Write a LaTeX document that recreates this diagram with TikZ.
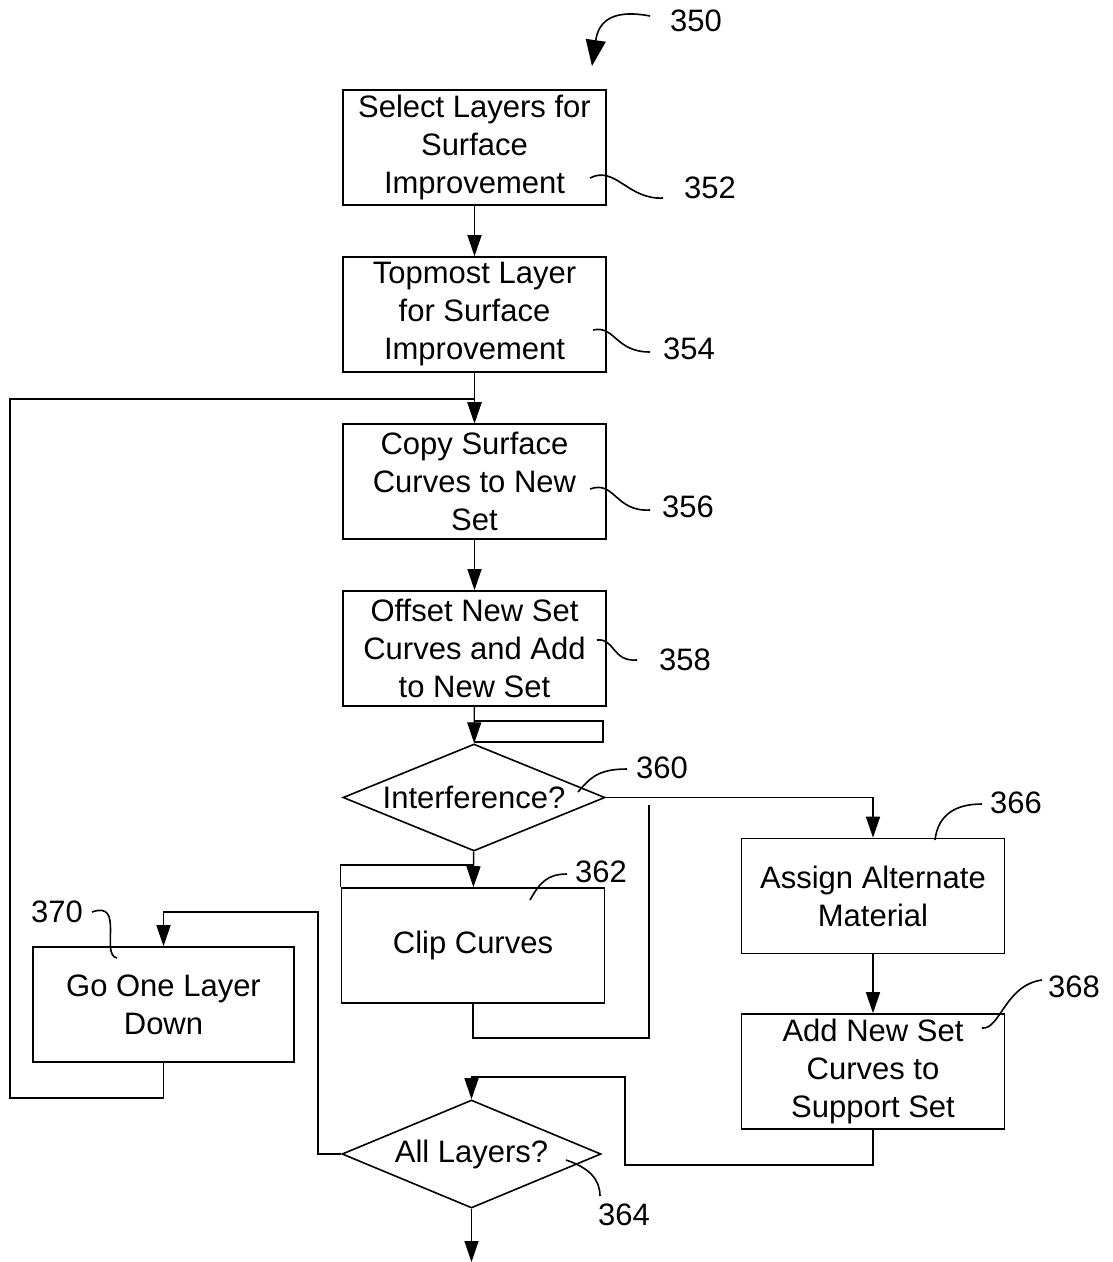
\documentclass[tikz,border=0pt]{standalone}
\usepackage{fontspec}
\setmainfont{Liberation Sans}
\usetikzlibrary{shapes.geometric,arrows.meta}

\tikzset{
  stepbox/.style={draw, line width=1.6pt, rectangle, minimum width=263pt, minimum height=115pt,
    inner sep=0pt, align=center, font=\fontsize{31}{38}\selectfont},
  decision/.style={draw, line width=1.6pt, diamond, aspect=2.45, inner sep=0pt,
    minimum width=262pt, minimum height=107pt, font=\fontsize{31}{38}\selectfont},
  flow/.style={line width=1.4pt, -{Triangle[length=21pt,width=14pt]}},
  line/.style={line width=1.4pt},
  leader/.style={line width=1.6pt},
  refnum/.style={font=\fontsize{31}{38}\selectfont, inner sep=0pt}
}

\begin{document}
\begin{tikzpicture}[x=1pt, y=-1pt]
    \useasboundingbox (0,0) rectangle (1113,1262);
    \node[stepbox] (Select) at (474.5,147.5) {Select Layers for\\Surface\\Improvement};
    \node[stepbox] (Topmost) at (474.5,314.5) {Topmost Layer\\for Surface\\Improvement};
    \node[stepbox] (Copy) at (474.5,481.5) {Copy Surface\\Curves to New\\Set};
    \node[stepbox] (Offset) at (474.5,648.5) {Offset New Set\\Curves and Add\\to New Set};
    \node[decision] (Interference) at (474,797.5) {Interference?};
    \node[stepbox] (Clip) at (473,945.5) {Clip Curves};
    \node[stepbox] (Assign) at (873,896) {Assign Alternate\\Material};
    \node[stepbox] (Add Set) at (873,1071.5) {Add New Set\\Curves to\\Support Set};
    \node[decision, minimum width=259pt, minimum height=108pt] (All Layers) at (471.5,1154) {All Layers?};
    \node[stepbox, minimum width=261pt] (Go Down) at (163.5,1004.5) {Go One Layer\\Down};
    \coordinate (Loop Top) at (474.5,399);
    \coordinate (Exit) at (471.5,1262);
    \draw[flow] (Select) -- (Topmost);
    \draw[flow] (Topmost) -- (Copy);
    \draw[flow] (Copy) -- (Offset);
    \draw[flow] (Offset) -- (Interference);
    \draw[line] (474.5,721) rectangle (603,742);
    \draw[flow] (Interference.east) -| (Assign.north);
    \draw[flow] (Interference) -- (Clip);
    \draw[line] (Clip.north west) |- (473,865);
    \draw[line] (Clip.south) |- (649,1038) -- (649,805);
    \draw[flow] (Assign) -- (Add Set);
    \draw[flow] (Add Set.south) |- (625,1165) |- (471.5,1077) -- (All Layers.north);
    \draw[flow] (All Layers.west) -| (318,912) -| (Go Down.north);
    \draw[flow] (Go Down.south) |- (10,1098) |- (Loop Top) -- (Copy.north);
    \draw[flow] (All Layers) -- (Exit);
    \node[refnum] (n350) at (696,21) {350};
    \node[refnum] (n352) at (710,188) {352};
    \node[refnum] (n354) at (689,349) {354};
    \node[refnum] (n356) at (688,507) {356};
    \node[refnum] (n358) at (685,660) {358};
    \node[refnum] (n360) at (662,768) {360};
    \node[refnum] (n362) at (601,872) {362};
    \node[refnum] (n366) at (1016,803) {366};
    \node[refnum] (n368) at (1074,987) {368};
    \node[refnum] (n370) at (57,912) {370};
    \node[refnum] (n364) at (624,1215) {364};
    \draw[line width=1.6pt, -{Triangle[length=26pt,width=20pt]}] (650,16) .. controls (608,8) and (598,25) .. (592,66);
    \draw[leader] (590,178) .. controls (615,165) and (628,200) .. (663,198);
    \draw[leader] (593,330) .. controls (615,325) and (615,352) .. (650,352);
    \draw[leader] (590,489) .. controls (615,480) and (615,512) .. (650,510);
    \draw[leader] (597,640) .. controls (615,638) and (612,662) .. (637,660);
    \draw[leader] (578,792) .. controls (590,778) and (598,769) .. (627,769);
    \draw[leader] (530,900) .. controls (540,882) and (548,874) .. (567,874);
    \draw[leader] (935,840) .. controls (938,815) and (955,804) .. (982,804);
    \draw[leader] (982,1028) .. controls (1000,1030) and (1005,985) .. (1042,980);
    \draw[leader] (92,912) .. controls (125,900) and (100,955) .. (117,958);
    \draw[leader] (566,1160) .. controls (590,1168) and (600,1180) .. (600,1196);
\end{tikzpicture}
\end{document}
